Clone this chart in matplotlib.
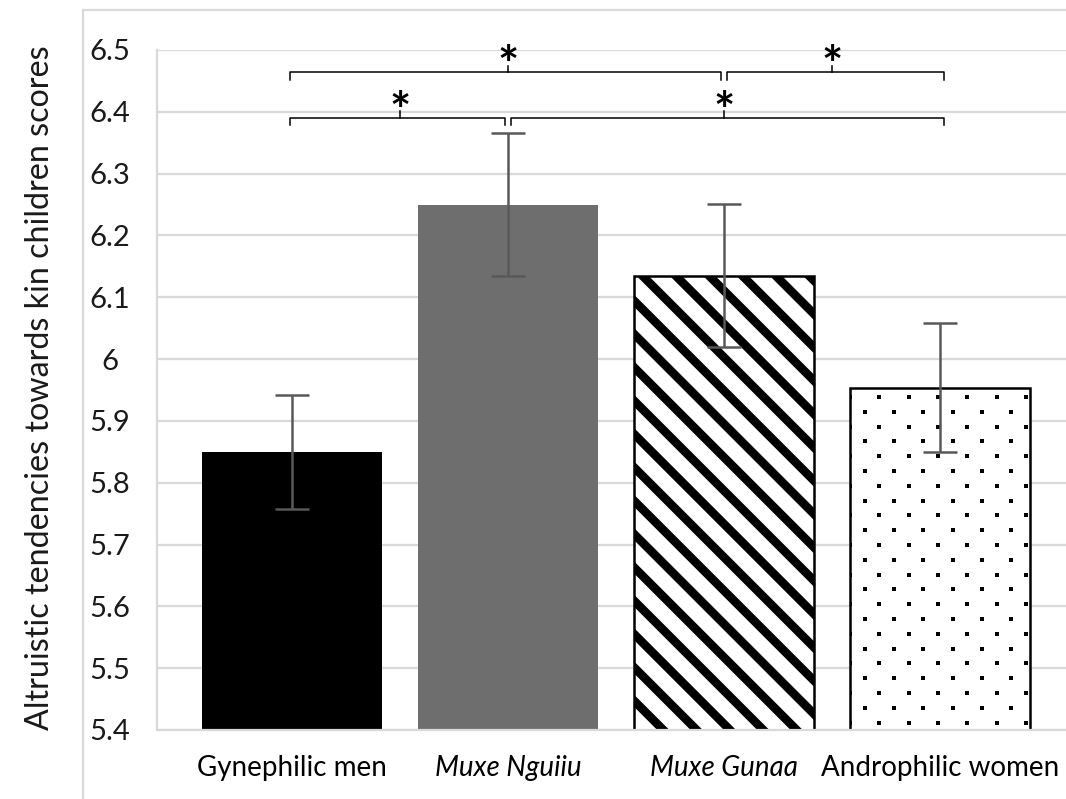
import matplotlib
matplotlib.use('Agg')
import matplotlib.pyplot as plt
import numpy as np
from matplotlib.lines import Line2D

# ---------------- data ----------------
categories = ['Gynephilic men', 'Muxe Nguiiu', 'Muxe Gunaa', 'Androphilic women']
italic_flags = [False, True, True, False]
means = [5.85, 6.25, 6.135, 5.954]
errors = [0.092, 0.116, 0.116, 0.105]
yticks = [5.4, 5.5, 5.6, 5.7, 5.8, 5.9, 6.0, 6.1, 6.2, 6.3, 6.4, 6.5]
ytick_labels = ['5.4', '5.5', '5.6', '5.7', '5.8', '5.9', '6', '6.1', '6.2', '6.3', '6.4', '6.5']
ylabel = 'Altruistic tendencies towards kin children scores'
# significance brackets: (from category, to category, row)
sig_pairs = [(0, 2, 1), (2, 3, 1), (0, 1, 0), (1, 3, 0)]
sig_labels = ['*', '*', '*', '*']
row_levels = [6.390, 6.464]

# ---------------- style ----------------
plt.rcParams['font.family'] = ['Lato', 'DejaVu Sans']
plt.rcParams['hatch.linewidth'] = 3.1
DPI = 200
W, H = 1066, 799
fig = plt.figure(figsize=(W / DPI, H / DPI), dpi=DPI)
fig.patch.set_facecolor('white')

grid_c = '#d9d9d9'
# outer chart border
fig.add_artist(Line2D([83 / W, 83 / W], [0, 1 - 10 / H], transform=fig.transFigure,
                      color=grid_c, lw=0.8))
fig.add_artist(Line2D([83 / W, 1.0], [1 - 10 / H, 1 - 10 / H], transform=fig.transFigure,
                      color=grid_c, lw=0.8))

ax = fig.add_axes([157 / W, (H - 730) / H, 918 / W, 680 / H])
ax.set_xlim(-0.625, 3.625)
ax.set_ylim(5.4, 6.5)
ax.set_axisbelow(True)
ax.yaxis.grid(True, color=grid_c, lw=0.8)
for s in ['top', 'right']:
    ax.spines[s].set_visible(False)
for s in ['left', 'bottom']:
    ax.spines[s].set_color(grid_c)
    ax.spines[s].set_linewidth(0.8)

x = np.arange(len(categories))
faces = ['black', '#6e6e6e', 'white', 'white']
edges = ['black', '#6e6e6e', 'black', 'black']
lws = [0, 0, 0.9, 0.9]
bars = ax.bar(x, means, width=0.833, color=faces, edgecolor=edges, linewidth=lws, zorder=2)
bars[2].set_hatch('\\\\')

ax.errorbar(x, means, yerr=errors, fmt='none', ecolor='#595959', elinewidth=0.9,
            capsize=6, capthick=0.9, zorder=4)

# dotted fill pattern for the last bar (lattice derived from bar geometry, in data units)
ax_px_w = 918.0
ax_px_h = 680.0
x_per_px = (ax.get_xlim()[1] - ax.get_xlim()[0]) / ax_px_w
y_per_px = (ax.get_ylim()[1] - ax.get_ylim()[0]) / ax_px_h
dx = 29.3 * x_per_px
dy = 14.8 * y_per_px
b = bars[3]
bx0, bx1 = b.get_x(), b.get_x() + b.get_width()
by0, by1 = ax.get_ylim()[0], b.get_y() + b.get_height()
pts_x, pts_y = [], []
r = 0
yy = by0 + dy * 0.5
while yy < by1:
    off = 0 if r % 2 == 0 else dx / 2
    xx = bx0 + off
    while xx <= bx1 + 1e-9:
        pts_x.append(xx)
        pts_y.append(yy)
        xx += dx
    yy += dy
    r += 1
dots, = ax.plot(pts_x, pts_y, 's', color='black', markersize=1.2, mew=0, zorder=3)
dots.set_clip_path(b)

# ticks
ax.set_yticks(yticks)
ax.set_yticklabels(ytick_labels, fontsize=10.5, color='#1a1a1a')
for t in ax.get_yticklabels():
    t.set_ha('center')
ax.tick_params(axis='y', length=0, pad=17)
ax.set_xticks(x)
ax.set_xticklabels(categories, fontsize=10, color='black')
for t, it in zip(ax.get_xticklabels(), italic_flags):
    if it:
        t.set_fontstyle('italic')
ax.tick_params(axis='x', length=0, pad=9)

fig.text(40 / W, 1 - 388 / H, ylabel, rotation=90, ha='center', va='center',
         fontsize=11.6, color='#1a1a1a')

# significance brackets
tip = 0.012
gap = 0.015
for (a, bb_, row), lab in zip(sig_pairs, sig_labels):
    y = row_levels[row]
    x0 = a + (gap if any(p[1] == a and p[2] == row for p in sig_pairs) else -0.01)
    x1 = bb_ + (0.02 if bb_ == 3 else -gap if any(p[0] == bb_ and p[2] == row for p in sig_pairs) else 0)
    xc = (a + bb_) / 2
    ax.plot([x0, x0, x1, x1], [y - tip, y, y, y - tip], color='black', lw=0.55,
            clip_on=False, zorder=5, solid_joinstyle='round')
    ax.plot([xc, xc], [y, y + tip * 0.9], color='black', lw=0.55, clip_on=False, zorder=5)
    ax.text(xc, y - 0.016, lab, ha='center', va='baseline', fontsize=18,
            fontweight='bold', clip_on=False, zorder=5)

fig.savefig('out.png', dpi=DPI, facecolor='white')
